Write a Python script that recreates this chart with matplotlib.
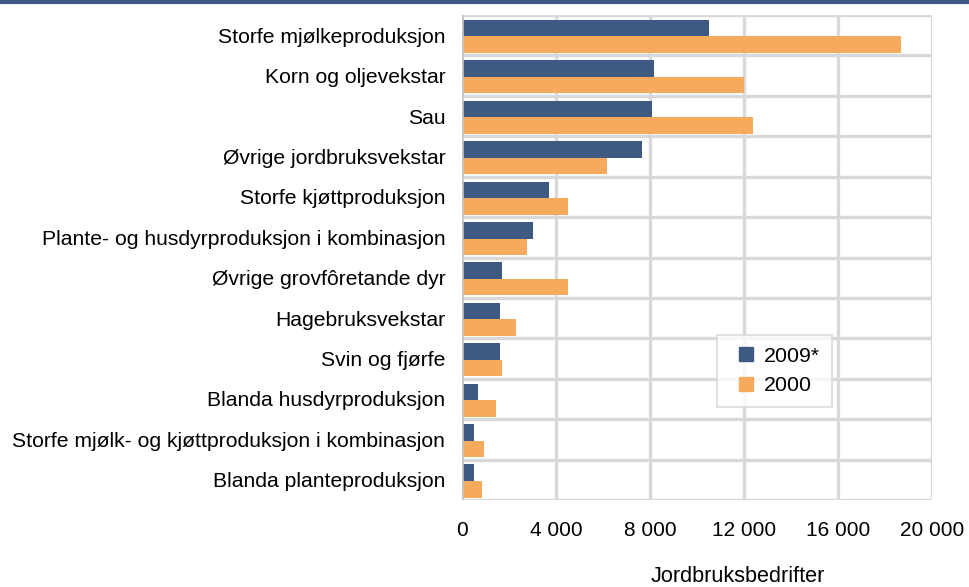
import matplotlib
matplotlib.use("Agg")
import matplotlib.pyplot as plt
from matplotlib.lines import Line2D
import numpy as np

plt.rcParams['font.family'] = ['Liberation Sans', 'DejaVu Sans']

categories = [
    "Storfe mjølkeproduksjon",
    "Korn og oljevekstar",
    "Sau",
    "Øvrige jordbruksvekstar",
    "Storfe kjøttproduksjon",
    "Plante- og husdyrproduksjon i kombinasjon",
    "Øvrige grovfôretande dyr",
    "Hagebruksvekstar",
    "Svin og fjørfe",
    "Blanda husdyrproduksjon",
    "Storfe mjølk- og kjøttproduksjon i kombinasjon",
    "Blanda planteproduksjon",
]
values_2009 = [10500, 8150, 8070, 7640, 3720, 3040, 1690, 1600, 1600, 660, 490, 490]
values_2000 = [18700, 12000, 12400, 6180, 4490, 2780, 4490, 2280, 1700, 1430, 920, 830]
series_labels = ["2009*", "2000"]
xticks = [0, 4000, 8000, 12000, 16000, 20000]
xtick_labels = ["0", "4 000", "8 000", "12 000", "16 000", "20 000"]
xlabel = "Jordbruksbedrifter"

blue = "#3f5a82"
orange = "#f6aa5e"
grid_c = "#d9d9d9"

fig = plt.figure(figsize=(9.70, 5.87), dpi=100)
ax = fig.add_axes([462/970, 1-500/587, 470/970, 485/587])

y = np.arange(len(categories))
h = 0.41
ax.barh(y - h/2 + 0.03, values_2009, height=h, color=blue, label=series_labels[0], zorder=3)
ax.barh(y + h/2 + 0.03, values_2000, height=h, color=orange, label=series_labels[1], zorder=3)

ax.set_xlim(0, 20000)
ax.set_ylim(len(categories) - 0.5, -0.5)

for xv in xticks[1:]:
    ax.axvline(xv, color=grid_c, lw=2.4, zorder=1)
for k in range(len(categories) + 1):
    ax.axhline(k - 0.5, color=grid_c, lw=2.4, zorder=1)
ax.axvline(0, color="#c4c4c4", lw=2.6, zorder=4)

for s in ax.spines.values():
    s.set_visible(False)

ax.set_xticks(xticks)
ax.set_xticklabels(xtick_labels, fontsize=15)
ax.set_yticks(y)
ax.set_yticklabels(categories, fontsize=15.2)
ax.tick_params(axis='x', length=0, pad=15)
ax.tick_params(axis='y', length=0, pad=12)

handles = [Line2D([], [], marker='s', ls='', color=blue, markersize=9.5),
           Line2D([], [], marker='s', ls='', color=orange, markersize=9.5)]
leg = ax.legend(handles, series_labels, loc='upper left',
                bbox_to_anchor=((717-462)/470, (500-335)/485),
                fontsize=15.4, frameon=True, fancybox=False, edgecolor="#d9d9d9",
                handlelength=1.6, borderpad=0.55, labelspacing=0.5,
                handletextpad=0.05, borderaxespad=0)
leg.get_frame().set_linewidth(1.5)

fig.text(738/970, 0.5/587, xlabel, fontsize=15.6, ha='center', va='bottom')

fig.add_artist(Line2D([0, 1], [1-2/587, 1-2/587], color=blue, lw=3, transform=fig.transFigure))

fig.savefig("out.png", dpi=100)
